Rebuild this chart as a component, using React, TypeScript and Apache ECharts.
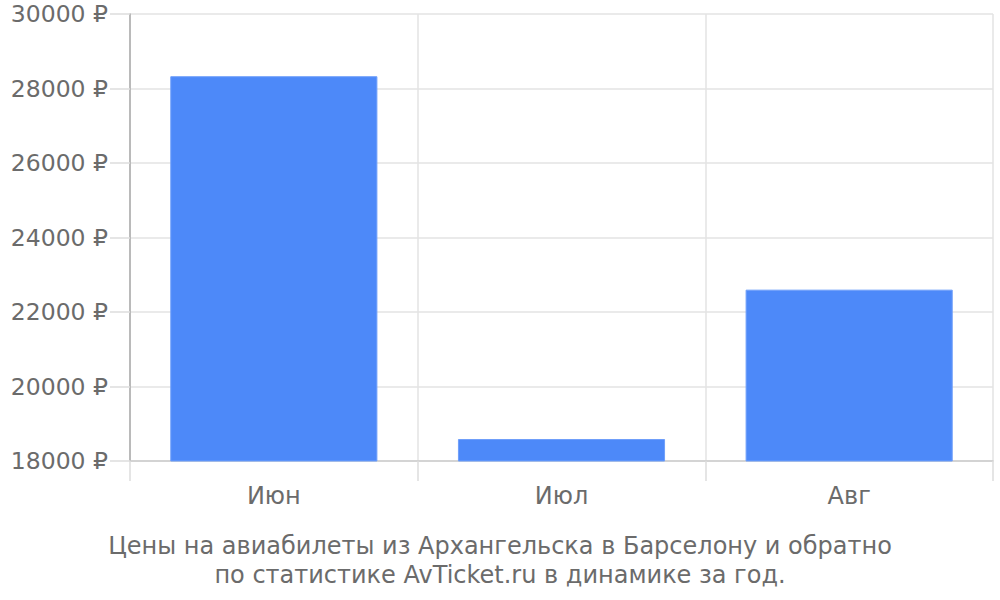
import { useEffect, useRef } from 'react';
import * as echarts from 'echarts';

const MONTHS = ['Июн', 'Июл', 'Авг'];
const PRICES = [28330, 18590, 22600];
const TITLE_LINES = [
  'Цены на авиабилеты из Архангельска в Барселону и обратно',
  'по статистике AvTicket.ru в динамике за год.',
];

export default function App() {
  const chartRef = useRef<HTMLDivElement>(null);

  useEffect(() => {
    if (!chartRef.current) return;
    const chart = echarts.init(chartRef.current, undefined, { renderer: 'svg' });
    const font = '"DejaVu Sans", sans-serif';
    const textColor = '#6b6b6b';

    chart.setOption({
      animation: false,
      textStyle: { fontFamily: font },
      title: {
        text: TITLE_LINES.join('\n'),
        left: 'center',
        bottom: 6,
        textStyle: {
          fontFamily: font,
          fontSize: 24,
          fontWeight: 'normal',
          color: textColor,
          lineHeight: 29,
          align: 'center',
        },
      },
      grid: { left: 130, right: 7, top: 14, bottom: 139 },
      xAxis: {
        type: 'category',
        data: MONTHS,
        boundaryGap: true,
        axisLine: { lineStyle: { color: '#ccc', width: 1.5 } },
        axisTick: { show: true, length: 20, lineStyle: { color: '#ddd', width: 1.5 } },
        axisLabel: { color: textColor, fontSize: 24, margin: 23, fontFamily: font },
        splitLine: { show: true, lineStyle: { color: '#e3e3e3', width: 1.5 } },
      },
      yAxis: {
        type: 'value',
        min: 18000,
        max: 30000,
        interval: 2000,
        axisLine: { show: true, lineStyle: { color: '#aaa', width: 1.5 } },
        axisTick: { show: true, length: 20, lineStyle: { color: '#ddd', width: 1.5 } },
        axisLabel: {
          color: textColor,
          fontSize: 23.5,
          margin: 22,
          fontFamily: font,
          formatter: (v: number) => `${v} ₽`,
        },
        splitLine: { lineStyle: { color: '#e3e3e3', width: 1.5 } },
      },
      series: [
        {
          type: 'bar',
          data: PRICES,
          barWidth: '72%',
          itemStyle: { color: '#4d89f9', borderColor: '#6f9ffa', borderWidth: 1 },
        },
      ],
    });

    return () => chart.dispose();
  }, []);

  return (
    <div
      ref={chartRef}
      style={{ width: 1000, height: 600, position: 'absolute', left: 0, top: 0 }}
    />
  );
}
